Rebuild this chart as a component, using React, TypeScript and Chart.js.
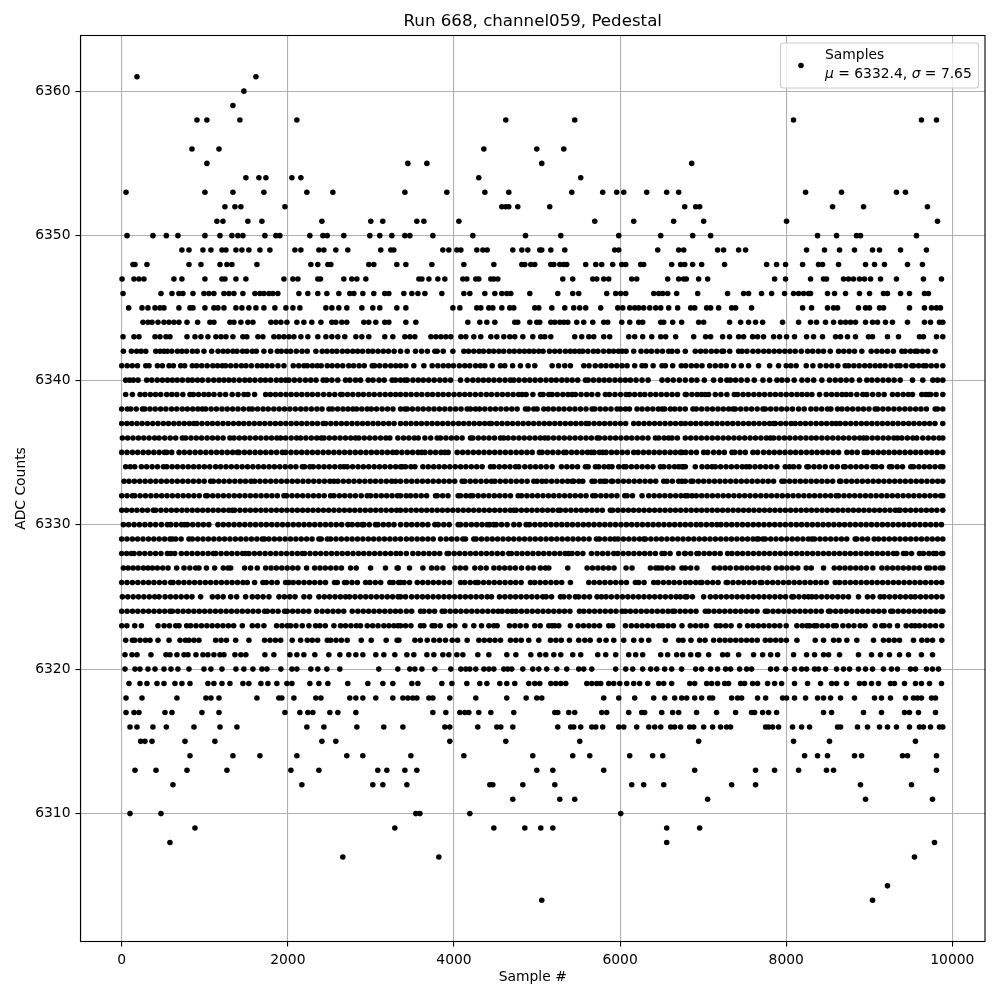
import React, { useEffect, useRef } from "react";
import { Chart, registerables } from "chart.js";

Chart.register(...registerables);

const chartTitle = "Run 668, channel059, Pedestal";
const xLabel = "Sample #";
const yLabel = "ADC Counts";
const xTicks = [0, 2000, 4000, 6000, 8000, 10000];
const yTicks = [6310, 6320, 6330, 6340, 6350, 6360];
const legendName = "Samples";
const legendStats = ["μ", " = 6332.4, ", "σ", " = 7.65"];

// Data provenance:
// Rows 6343-6361 and 6304-6321 were read dot by dot from zoomed crops of the reference.
// Rows 6322-6342 overlap into solid bars, so only the bar edges could be read; the points
// inside each bar are hand-typed at roughly even spacing. They are NOT read samples.
const adc6361 = [184, 1616];
const adc6360 = [1471];
const adc6359 = [1339];
const adc6358 = [906, 1026, 1423, 2109, 4624, 5454, 8088, 9628, 9809];
const adc6356 = [846, 1171, 4360, 4997, 5322];
const adc6355 = [1026, 3445, 3674, 5057, 6862];
const adc6354 = [1495, 1652, 1736, 2049, 2157, 4299, 5526];
const adc6353 = [52, 1002, 1339, 1712, 2229, 2542, 3409, 3914, 4372, 4660, 5418, 5791, 5959, 6044, 6320, 6561, 6705, 8233, 8666, 9327, 9436];
const adc6352 = [1243, 1363, 1435, 1965, 4576, 4624, 4660, 4768, 5153, 6778, 6910, 6958, 8558, 8931, 9700];
const adc6351 = [1146, 1219, 1519, 1688, 2410, 2999, 3143, 3553, 3638, 4059, 5695, 6164, 6645, 7006, 8004, 9821];
const adc6350 = [64, 376, 537, 677, 1002, 1183, 1327, 1399, 1459, 1724, 1856, 1904, 2265, 2422, 2474, 2674, 2987, 3107, 3252, 3409, 3469, 3746, 4227, 4861, 5286, 5984, 6489, 6874, 7090, 8377, 8606, 8846, 8894, 9568];
const adc6349 = [725, 810, 978, 1074, 1207, 1255, 1375, 1447, 1531, 1664, 1784, 2085, 2157, 2374, 2434, 2578, 2722, 3119, 3240, 3276, 3866, 3938, 4035, 4083, 4275, 4348, 4400, 4708, 4817, 4889, 5033, 5057, 5166, 5334, 5935, 5984, 6453, 6705, 6766, 7174, 7246, 7427, 7511, 8245, 8461, 8642, 8822, 9039, 9123, 9376, 9688];
const adc6348 = [136, 160, 304, 810, 954, 1183, 1267, 1327, 1628, 2277, 2361, 2482, 2518, 2975, 3035, 3312, 3421, 3734, 4119, 4480, 4817, 4853, 4925, 4973, 5166, 5202, 5274, 5322, 5358, 5586, 5707, 5779, 5911, 6020, 6068, 6248, 6284, 6621, 6729, 6778, 6874, 6982, 7258, 7764, 7884, 7992, 8197, 8389, 8437, 8630, 8955, 9063, 9183, 9460, 9640];
const adc6347 = [4, 148, 208, 268, 629, 725, 1002, 1207, 1243, 1375, 1495, 1953, 2061, 2121, 2361, 2393, 2674, 2770, 2831, 2939, 3578, 3614, 3698, 3806, 3890, 4107, 4155, 4263, 4299, 4444, 4480, 4528, 5310, 5430, 5671, 5719, 5803, 5863, 6140, 6200, 6573, 6705, 6765, 6797, 6946, 7054, 7860, 7992, 8293, 8449, 8485, 8690, 8750, 8810, 8882, 8942, 9015, 9135, 9327, 9652, 9869];
const adc6346 = [16, 473, 605, 689, 737, 858, 990, 1050, 1110, 1231, 1291, 1351, 1459, 1604, 1664, 1712, 1772, 1820, 1880, 2133, 2241, 2361, 2470, 2614, 2746, 2795, 2903, 3035, 3167, 3216, 3397, 3493, 3566, 3650, 3854, 4119, 4191, 4372, 4492, 4576, 4636, 4684, 4913, 5250, 5430, 5502, 5839, 5947, 6008, 6068, 6405, 6465, 6513, 6573, 6681, 6934, 7294, 7487, 7547, 7703, 7824, 7980, 8088, 8149, 8209, 8269, 8293, 8497, 8582, 8714, 8882, 9003, 9171, 9219, 9376, 9484, 9664, 9712];
const adc6345 = [84, 244, 316, 401, 461, 509, 689, 822, 858, 1002, 1110, 1159, 1231, 1375, 1447, 1531, 1616, 1712, 1844, 1977, 2061, 2145, 2458, 2530, 2614, 2710, 2891, 3023, 3107, 3312, 3421, 3987, 4071, 4275, 4323, 4420, 4468, 4576, 4672, 4720, 4973, 5021, 5178, 5334, 5442, 5514, 5586, 5767, 5972, 6032, 6116, 6176, 6224, 6284, 6357, 6429, 6489, 6585, 6693, 6850, 6898, 7042, 7090, 7186, 7343, 7391, 7583, 8197, 8305, 8497, 8570, 8618, 8870, 8955, 9003, 9123, 9171, 9484, 9664, 9749, 9809, 9857];
const adc6344 = [256, 316, 365, 437, 509, 569, 629, 689, 786, 914, 1062, 1110, 1303, 1351, 1435, 1519, 1580, 1796, 1856, 1917, 1989, 2109, 2193, 2289, 2398, 2530, 2578, 2650, 2710, 2915, 2975, 3059, 3167, 3216, 3421, 3541, 4167, 4311, 4396, 4492, 4732, 4768, 4913, 4997, 5033, 5166, 5214, 5274, 5322, 5370, 5478, 5562, 5671, 5803, 5851, 6020, 6116, 6224, 6272, 6489, 6525, 6633, 6741, 6946, 7006, 7318, 7451, 7547, 7631, 7716, 7956, 8149, 8293, 8365, 8473, 8570, 8654, 8714, 8774, 8834, 8955, 9039, 9099, 9195, 9279, 9460, 9664, 9737, 9845, 9885];
const adc6343 = [16, 148, 208, 401, 461, 533, 581, 786, 882, 954, 1038, 1134, 1195, 1255, 1339, 1459, 1507, 1640, 1700, 1832, 1892, 1953, 2013, 2073, 2157, 2241, 2361, 2458, 2530, 2602, 2686, 2819, 2891, 2975, 3167, 3264, 3409, 3469, 3529, 3722, 3782, 3842, 3902, 3962, 4083, 4143, 4239, 4323, 4444, 4516, 4600, 4672, 4732, 4829, 4949, 5045, 5093, 5166, 5454, 5538, 5623, 5683, 5803, 5875, 6104, 6176, 6272, 6381, 6489, 6549, 6669, 6886, 7030, 7090, 7234, 7318, 7427, 7487, 7595, 7655, 7727, 7848, 7920, 8004, 8100, 8245, 8329, 8437, 8594, 8654, 8738, 8834, 8990, 9039, 9219, 9352, 9604, 9652, 9809, 9885];
const adc6342 = [20, 117, 180, 233, 290, 410, 462, 510, 550, 603, 671, 724, 781, 852, 909, 990, 1083, 1160, 1221, 1276, 1339, 1388, 1456, 1507, 1573, 1621, 1712, 1793, 1873, 1921, 1984, 2033, 2102, 2171, 2234, 2338, 2414, 2471, 2534, 2590, 2657, 2718, 2781, 2840, 2899, 2968, 3022, 3086, 3149, 3211, 3280, 3357, 3437, 3537, 3610, 3680, 3770, 3798, 3871, 3987, 4119, 4176, 4239, 4302, 4355, 4421, 4478, 4541, 4598, 4667, 4726, 4789, 4848, 4906, 4961, 5021, 5073, 5150, 5213, 5274, 5342, 5401, 5455, 5510, 5550, 5612, 5679, 5733, 5801, 5866, 5921, 5980, 6024, 6072, 6164, 6252, 6318, 6377, 6446, 6510, 6585, 6625, 6690, 6785, 6905, 6969, 7031, 7098, 7160, 7226, 7246, 7320, 7427, 7467, 7527, 7599, 7662, 7729, 7791, 7855, 7918, 7983, 8044, 8108, 8181, 8257, 8318, 8386, 8449, 8530, 8630, 8692, 8757, 8822, 8910, 9023, 9091, 9154, 9218, 9290, 9392, 9432, 9496, 9552, 9580, 9640, 9703, 9793];
const adc6341 = [0, 66, 127, 190, 290, 329, 430, 490, 570, 622, 710, 758, 850, 902, 963, 1029, 1097, 1154, 1211, 1251, 1312, 1376, 1441, 1496, 1561, 1633, 1689, 1748, 1810, 1881, 1953, 2065, 2131, 2194, 2234, 2295, 2354, 2402, 2475, 2533, 2597, 2661, 2733, 2791, 2858, 2920, 3016, 3044, 3105, 3172, 3239, 3300, 3357, 3421, 3517, 3638, 3738, 3806, 3871, 3933, 3994, 4065, 4130, 4190, 4260, 4320, 4372, 4460, 4560, 4612, 4706, 4800, 4893, 4973, 5182, 5260, 5334, 5402, 5563, 5626, 5701, 5769, 5830, 5896, 5960, 6024, 6084, 6176, 6264, 6305, 6398, 6505, 6545, 6633, 6737, 6790, 6858, 6920, 6986, 7078, 7146, 7214, 7278, 7367, 7459, 7547, 7667, 7800, 7908, 8000, 8056, 8120, 8241, 8321, 8409, 8481, 8548, 8621, 8710, 8750, 8814, 8878, 8945, 9007, 9071, 9131, 9191, 9262, 9331, 9371, 9440, 9512, 9532, 9594, 9652, 9684, 9746, 9810, 9885];
const adc6340 = [48, 96, 140, 197, 301, 362, 428, 490, 552, 610, 668, 731, 798, 850, 912, 970, 1041, 1108, 1171, 1231, 1291, 1350, 1416, 1482, 1541, 1604, 1671, 1730, 1793, 1861, 1919, 1973, 2013, 2078, 2144, 2212, 2276, 2340, 2426, 2467, 2530, 2601, 2695, 2747, 2815, 2875, 2968, 3026, 3098, 3160, 3256, 3296, 3357, 3409, 3437, 3506, 3570, 3631, 3696, 3762, 3830, 3893, 3959, 4079, 4159, 4227, 4291, 4354, 4418, 4482, 4548, 4615, 4680, 4720, 4783, 4851, 4913, 4977, 5041, 5108, 5172, 5231, 5298, 5360, 5423, 5490, 5583, 5615, 5680, 5746, 5809, 5871, 5938, 6002, 6063, 6124, 6192, 6264, 6337, 6505, 6573, 6640, 6713, 6785, 6860, 6925, 7014, 7126, 7210, 7286, 7327, 7390, 7458, 7530, 7615, 7720, 7800, 7888, 7948, 8013, 8096, 8189, 8257, 8331, 8429, 8521, 8590, 8656, 8722, 8790, 8882, 8970, 9031, 9097, 9165, 9232, 9299, 9372, 9520, 9644, 9765, 9822, 9885];
const adc6339 = [48, 129, 221, 280, 345, 408, 470, 542, 603, 664, 736, 822, 862, 925, 990, 1048, 1111, 1183, 1251, 1330, 1401, 1472, 1520, 1600, 1733, 1790, 1852, 1913, 1978, 2040, 2105, 2168, 2233, 2295, 2361, 2430, 2498, 2565, 2635, 2655, 2719, 2782, 2849, 2910, 2977, 3040, 3108, 3172, 3236, 3298, 3357, 3421, 3484, 3550, 3613, 3681, 3742, 3808, 3870, 3935, 4001, 4066, 4130, 4192, 4258, 4324, 4391, 4452, 4519, 4583, 4648, 4712, 4777, 4821, 4869, 4950, 5041, 5073, 5142, 5182, 5244, 5311, 5372, 5422, 5462, 5530, 5597, 5660, 5732, 5823, 5871, 5938, 6005, 6072, 6112, 6175, 6240, 6297, 6365, 6430, 6495, 6561, 6626, 6691, 6785, 6797, 6865, 6928, 6980, 7026, 7066, 7146, 7214, 7286, 7375, 7415, 7480, 7543, 7610, 7675, 7739, 7806, 7870, 7935, 8000, 8065, 8129, 8189, 8250, 8309, 8401, 8481, 8546, 8610, 8672, 8722, 8778, 8850, 8922, 8970, 9040, 9110, 9179, 9279, 9342, 9408, 9470, 9520, 9632, 9680, 9712, 9740, 9804, 9885];
const adc6338 = [0, 68, 109, 175, 249, 277, 340, 403, 468, 532, 600, 663, 729, 790, 855, 917, 971, 1011, 1076, 1140, 1207, 1270, 1335, 1400, 1466, 1532, 1572, 1636, 1702, 1764, 1831, 1895, 1960, 2024, 2090, 2156, 2218, 2284, 2350, 2412, 2495, 2535, 2600, 2664, 2725, 2783, 2827, 2890, 2955, 3004, 3068, 3135, 3200, 3266, 3357, 3409, 3437, 3500, 3566, 3630, 3696, 3760, 3825, 3889, 3954, 4020, 4085, 4159, 4199, 4259, 4307, 4371, 4437, 4500, 4565, 4630, 4696, 4760, 4861, 4893, 4961, 5001, 5081, 5133, 5197, 5263, 5326, 5392, 5456, 5522, 5590, 5663, 5695, 5760, 5825, 5890, 5963, 6004, 6064, 6112, 6204, 6264, 6330, 6394, 6460, 6505, 6537, 6605, 6657, 6720, 6785, 6877, 6917, 6982, 7048, 7113, 7178, 7242, 7307, 7359, 7387, 7452, 7518, 7583, 7650, 7720, 7748, 7812, 7878, 7944, 8008, 8075, 8149, 8217, 8297, 8360, 8427, 8497, 8538, 8618, 8670, 8735, 8800, 8866, 8930, 8996, 9071, 9099, 9164, 9229, 9296, 9361, 9428, 9492, 9558, 9622, 9688, 9793, 9821, 9885];
const adc6337 = [0, 62, 121, 184, 246, 310, 374, 437, 501, 563, 628, 690, 753, 817, 870, 903, 966, 1030, 1092, 1155, 1219, 1282, 1346, 1409, 1470, 1533, 1596, 1660, 1723, 1787, 1850, 1912, 1976, 2040, 2103, 2167, 2230, 2294, 2358, 2426, 2455, 2518, 2581, 2645, 2708, 2772, 2835, 2898, 2962, 3025, 3088, 3151, 3215, 3279, 3357, 3420, 3483, 3546, 3610, 3674, 3737, 3800, 3864, 3927, 3990, 4054, 4117, 4180, 4244, 4307, 4370, 4428, 4452, 4516, 4579, 4643, 4706, 4770, 4833, 4896, 4960, 5024, 5087, 5150, 5214, 5277, 5340, 5404, 5467, 5530, 5591, 5623, 5687, 5750, 5813, 5877, 5940, 6004, 6067, 6164, 6224, 6288, 6351, 6415, 6478, 6541, 6605, 6668, 6732, 6785, 6849, 6912, 6976, 7039, 7103, 7166, 7230, 7293, 7356, 7420, 7483, 7547, 7610, 7673, 7737, 7800, 7848, 7868, 7932, 7995, 8058, 8108, 8169, 8233, 8296, 8360, 8423, 8486, 8550, 8602, 8650, 8714, 8777, 8840, 8904, 8967, 9031, 9094, 9157, 9220, 9284, 9347, 9411, 9474, 9537, 9601, 9664, 9727, 9791, 9885];
const adc6336 = [8, 72, 136, 201, 266, 330, 396, 450, 518, 584, 650, 730, 770, 834, 898, 962, 1028, 1092, 1156, 1221, 1303, 1352, 1416, 1480, 1545, 1611, 1675, 1740, 1804, 1868, 1913, 1973, 2040, 2106, 2154, 2218, 2283, 2348, 2402, 2435, 2500, 2564, 2629, 2694, 2758, 2815, 2855, 2920, 2986, 3050, 3116, 3180, 3228, 3325, 3393, 3457, 3521, 3570, 3650, 3720, 3798, 3838, 3903, 3968, 4032, 4098, 4199, 4227, 4293, 4358, 4422, 4488, 4560, 4600, 4652, 4716, 4782, 4846, 4911, 4976, 5040, 5093, 5133, 5198, 5264, 5328, 5394, 5458, 5524, 5590, 5654, 5723, 5751, 5816, 5881, 5945, 6010, 6076, 6140, 6206, 6270, 6336, 6425, 6465, 6530, 6585, 6625, 6690, 6785, 6850, 6914, 6980, 7044, 7110, 7175, 7240, 7305, 7370, 7434, 7500, 7565, 7630, 7695, 7760, 7808, 7848, 7913, 7978, 8043, 8108, 8172, 8238, 8302, 8361, 8429, 8494, 8560, 8625, 8690, 8755, 8820, 8885, 8930, 8970, 9035, 9100, 9166, 9230, 9296, 9340, 9392, 9458, 9524, 9572, 9644, 9710, 9775, 9840, 9885];
const adc6335 = [0, 64, 129, 193, 258, 322, 387, 451, 515, 542, 602, 690, 754, 819, 884, 948, 1013, 1077, 1142, 1206, 1271, 1335, 1392, 1412, 1477, 1541, 1606, 1670, 1735, 1799, 1864, 1933, 1973, 2038, 2102, 2167, 2231, 2296, 2360, 2425, 2489, 2554, 2618, 2683, 2747, 2812, 2876, 2941, 3005, 3070, 3134, 3199, 3263, 3309, 3373, 3438, 3502, 3567, 3610, 3650, 3715, 3779, 3844, 3890, 3930, 4039, 4104, 4168, 4233, 4297, 4362, 4426, 4491, 4555, 4620, 4684, 4749, 4813, 4878, 4942, 5029, 5061, 5126, 5190, 5255, 5322, 5350, 5415, 5479, 5544, 5608, 5655, 5687, 5751, 5791, 5831, 5896, 5960, 6025, 6089, 6164, 6216, 6281, 6345, 6410, 6474, 6539, 6603, 6665, 6725, 6745, 6790, 6854, 6919, 7006, 7054, 7126, 7191, 7255, 7347, 7379, 7444, 7508, 7599, 7655, 7727, 7792, 7856, 7921, 7985, 8050, 8114, 8179, 8243, 8308, 8372, 8437, 8501, 8566, 8630, 8730, 8790, 8855, 8938, 8978, 9043, 9107, 9172, 9236, 9301, 9365, 9430, 9494, 9559, 9623, 9688, 9752, 9817, 9885];
const adc6334 = [48, 103, 157, 237, 300, 366, 431, 502, 542, 607, 671, 736, 801, 866, 930, 995, 1060, 1131, 1191, 1256, 1320, 1385, 1450, 1515, 1579, 1644, 1709, 1774, 1838, 1903, 1968, 2033, 2097, 2174, 2202, 2266, 2306, 2371, 2436, 2500, 2565, 2630, 2675, 2715, 2780, 2845, 2909, 2974, 3039, 3104, 3168, 3233, 3298, 3357, 3377, 3417, 3481, 3530, 3626, 3691, 3756, 3820, 3885, 3950, 4015, 4080, 4144, 4209, 4274, 4339, 4440, 4480, 4545, 4610, 4674, 4741, 4781, 4853, 4918, 4983, 5047, 5112, 5182, 5294, 5359, 5423, 5488, 5583, 5615, 5703, 5743, 5808, 5863, 5903, 5984, 6044, 6072, 6137, 6201, 6266, 6331, 6396, 6485, 6525, 6590, 6655, 6705, 6745, 6765, 6785, 6905, 6986, 7050, 7106, 7146, 7210, 7275, 7340, 7405, 7470, 7519, 7559, 7624, 7688, 7753, 7818, 7888, 7988, 8040, 8088, 8153, 8249, 8269, 8334, 8399, 8469, 8550, 8615, 8690, 8710, 8775, 8840, 8904, 8969, 9043, 9083, 9148, 9243, 9271, 9336, 9400, 9500, 9532, 9597, 9662, 9726, 9791, 9856, 9885];
const adc6333 = [28, 88, 152, 217, 282, 346, 411, 476, 540, 605, 670, 735, 799, 864, 929, 994, 1071, 1103, 1168, 1232, 1297, 1362, 1427, 1491, 1556, 1600, 1664, 1729, 1794, 1858, 1923, 1988, 2053, 2117, 2182, 2247, 2312, 2376, 2441, 2506, 2555, 2603, 2668, 2733, 2797, 2862, 2927, 2992, 3056, 3121, 3186, 3251, 3297, 3357, 3426, 3491, 3556, 3621, 3685, 3750, 3815, 3880, 3944, 4009, 4099, 4131, 4196, 4260, 4325, 4390, 4452, 4492, 4557, 4622, 4686, 4751, 4816, 4881, 4961, 5001, 5061, 5110, 5175, 5240, 5304, 5369, 5422, 5442, 5503, 5551, 5663, 5695, 5760, 5803, 5831, 5895, 5911, 5976, 6041, 6105, 6170, 6235, 6300, 6364, 6429, 6525, 6565, 6630, 6705, 6745, 6785, 6853, 6877, 6942, 7006, 7071, 7136, 7201, 7265, 7330, 7395, 7460, 7524, 7589, 7654, 7719, 7783, 7848, 7948, 7976, 8041, 8105, 8170, 8235, 8300, 8364, 8429, 8494, 8559, 8642, 8658, 8723, 8788, 8852, 8917, 8982, 9047, 9111, 9176, 9241, 9306, 9370, 9435, 9500, 9565, 9629, 9694, 9759, 9824, 9885];
const adc6332 = [0, 64, 129, 157, 222, 286, 351, 416, 481, 545, 610, 675, 740, 804, 869, 934, 1011, 1031, 1096, 1160, 1225, 1290, 1355, 1419, 1484, 1549, 1614, 1678, 1743, 1808, 1873, 1953, 1985, 2050, 2114, 2179, 2244, 2309, 2373, 2438, 2515, 2555, 2620, 2684, 2749, 2814, 2884, 2956, 2996, 3061, 3126, 3190, 3255, 3320, 3357, 3425, 3477, 3541, 3606, 3671, 3778, 3798, 3863, 3928, 4051, 4079, 4144, 4199, 4227, 4291, 4356, 4421, 4486, 4550, 4615, 4680, 4773, 4813, 4878, 4942, 5007, 5072, 5137, 5201, 5266, 5331, 5396, 5460, 5525, 5590, 5671, 5703, 5768, 5832, 5897, 5962, 6056, 6084, 6149, 6264, 6345, 6410, 6474, 6539, 6604, 6669, 6733, 6785, 6813, 6865, 6917, 6982, 7046, 7111, 7176, 7241, 7305, 7370, 7435, 7500, 7564, 7629, 7694, 7759, 7823, 7888, 7953, 8018, 8082, 8147, 8212, 8277, 8341, 8406, 8471, 8536, 8602, 8630, 8695, 8759, 8824, 8889, 8954, 9018, 9083, 9148, 9213, 9277, 9342, 9407, 9472, 9536, 9601, 9666, 9731, 9795, 9860, 9885];
const adc6331 = [0, 58, 121, 183, 248, 311, 381, 409, 472, 535, 598, 660, 724, 786, 849, 912, 975, 1038, 1100, 1163, 1226, 1289, 1332, 1360, 1423, 1486, 1549, 1612, 1675, 1737, 1800, 1863, 1926, 1989, 2052, 2115, 2178, 2240, 2303, 2366, 2429, 2492, 2555, 2618, 2681, 2744, 2806, 2869, 2932, 2995, 3058, 3121, 3184, 3247, 3310, 3357, 3420, 3483, 3546, 3609, 3672, 3735, 3798, 3860, 3923, 3986, 4049, 4112, 4175, 4238, 4301, 4364, 4427, 4490, 4552, 4615, 4678, 4721, 4749, 4812, 4875, 4938, 5001, 5064, 5127, 5190, 5254, 5282, 5345, 5408, 5471, 5534, 5597, 5660, 5723, 5786, 5883, 5911, 5974, 6037, 6100, 6163, 6226, 6289, 6352, 6415, 6478, 6541, 6604, 6667, 6730, 6793, 6856, 6919, 6982, 7045, 7108, 7171, 7234, 7297, 7360, 7423, 7486, 7549, 7612, 7675, 7738, 7801, 7864, 7927, 7990, 8053, 8116, 8179, 8242, 8305, 8368, 8431, 8494, 8557, 8620, 8683, 8746, 8809, 8872, 8935, 8998, 9061, 9124, 9187, 9250, 9313, 9352, 9372, 9435, 9498, 9561, 9624, 9687, 9750, 9813, 9885];
const adc6330 = [20, 84, 149, 214, 279, 343, 409, 478, 550, 590, 655, 720, 758, 790, 855, 920, 984, 1049, 1159, 1223, 1288, 1353, 1418, 1482, 1547, 1612, 1677, 1741, 1806, 1871, 1936, 2000, 2065, 2130, 2195, 2259, 2324, 2389, 2454, 2518, 2583, 2648, 2723, 2775, 2840, 2896, 2916, 2981, 3056, 3084, 3149, 3214, 3278, 3357, 3427, 3491, 3556, 3621, 3686, 3770, 3810, 3878, 3943, 4051, 4079, 4144, 4209, 4273, 4338, 4400, 4428, 4480, 4508, 4573, 4640, 4721, 4786, 4869, 4909, 4974, 5039, 5103, 5168, 5233, 5298, 5362, 5427, 5492, 5557, 5621, 5686, 5751, 5816, 5880, 5945, 6010, 6075, 6139, 6204, 6269, 6334, 6398, 6463, 6528, 6593, 6657, 6722, 6785, 6850, 6917, 6974, 7039, 7104, 7166, 7214, 7279, 7344, 7408, 7473, 7538, 7603, 7667, 7732, 7797, 7862, 7926, 7991, 8056, 8121, 8185, 8250, 8315, 8380, 8444, 8509, 8574, 8639, 8703, 8768, 8833, 8898, 8962, 9027, 9092, 9157, 9221, 9286, 9351, 9416, 9480, 9545, 9610, 9675, 9739, 9804, 9869];
const adc6329 = [0, 63, 128, 192, 257, 322, 387, 451, 516, 581, 610, 650, 715, 810, 850, 915, 979, 1044, 1109, 1174, 1238, 1303, 1368, 1433, 1497, 1562, 1627, 1692, 1720, 1773, 1838, 1902, 1967, 2032, 2097, 2161, 2226, 2291, 2374, 2402, 2475, 2515, 2580, 2645, 2710, 2774, 2839, 2904, 2969, 3033, 3098, 3163, 3228, 3292, 3357, 3427, 3491, 3556, 3621, 3686, 3750, 3838, 3906, 3971, 4036, 4107, 4139, 4239, 4267, 4332, 4397, 4461, 4526, 4591, 4656, 4720, 4785, 4850, 4915, 4979, 5044, 5109, 5174, 5238, 5303, 5368, 5433, 5497, 5562, 5627, 5715, 5751, 5816, 5881, 5935, 5975, 6040, 6105, 6169, 6234, 6285, 6305, 6370, 6435, 6499, 6564, 6629, 6694, 6758, 6823, 6888, 6953, 7017, 7082, 7147, 7212, 7276, 7341, 7406, 7471, 7535, 7600, 7647, 7667, 7720, 7748, 7813, 7877, 7942, 8007, 8072, 8136, 8201, 8266, 8309, 8341, 8406, 8470, 8535, 8600, 8665, 8729, 8830, 8850, 8915, 8980, 9059, 9111, 9176, 9240, 9305, 9370, 9435, 9499, 9564, 9629, 9694, 9758, 9823, 9885];
const adc6328 = [0, 60, 117, 149, 214, 278, 343, 408, 473, 550, 590, 638, 718, 783, 847, 912, 977, 1042, 1103, 1131, 1196, 1261, 1325, 1390, 1455, 1492, 1532, 1597, 1661, 1726, 1791, 1856, 1920, 1985, 2050, 2115, 2174, 2202, 2267, 2332, 2396, 2461, 2526, 2591, 2655, 2720, 2785, 2850, 2914, 2979, 3044, 3109, 3173, 3238, 3303, 3357, 3427, 3505, 3570, 3635, 3700, 3764, 3829, 3918, 3938, 4003, 4068, 4132, 4197, 4262, 4327, 4391, 4456, 4521, 4586, 4660, 4692, 4757, 4821, 4886, 4951, 5016, 5080, 5145, 5210, 5275, 5339, 5382, 5422, 5487, 5552, 5655, 5723, 5788, 5853, 5924, 5972, 6037, 6101, 6166, 6231, 6296, 6360, 6425, 6505, 6537, 6602, 6705, 6777, 6785, 6850, 6925, 6946, 7011, 7075, 7140, 7205, 7294, 7347, 7412, 7476, 7541, 7606, 7671, 7735, 7800, 7865, 7930, 7994, 8059, 8124, 8189, 8253, 8318, 8383, 8448, 8512, 8577, 8642, 8707, 8771, 8836, 8901, 8966, 9030, 9095, 9160, 9225, 9291, 9332, 9412, 9444, 9509, 9604, 9652, 9717, 9773, 9805, 9870, 9885];
const adc6327 = [20, 77, 137, 197, 261, 316, 369, 429, 494, 558, 662, 750, 820, 890, 930, 1020, 1119, 1223, 1279, 1312, 1480, 1552, 1632, 1733, 1798, 1862, 1927, 1992, 2057, 2121, 2226, 2322, 2387, 2451, 2516, 2581, 2646, 2755, 2823, 2996, 3176, 3316, 3329, 3465, 3626, 3730, 3795, 3866, 4011, 4076, 4141, 4251, 4320, 4388, 4480, 4545, 4610, 4674, 4739, 4813, 4893, 4958, 5040, 5101, 5142, 5370, 5603, 5668, 5733, 5797, 5862, 5927, 6072, 6144, 6365, 6430, 6465, 6505, 6570, 6635, 6745, 6785, 6850, 6925, 7134, 7199, 7264, 7326, 7399, 7464, 7529, 7593, 7658, 7723, 7788, 7880, 7945, 8009, 8074, 8139, 8241, 8301, 8449, 8578, 8642, 8707, 8772, 8837, 8901, 8966, 9043, 9151, 9216, 9281, 9345, 9410, 9475, 9540, 9604, 9692, 9725, 9790, 9855, 9885];
const adc6326 = [0, 64, 129, 194, 259, 323, 388, 453, 518, 590, 618, 683, 748, 812, 877, 942, 1007, 1071, 1136, 1201, 1266, 1330, 1395, 1460, 1512, 1600, 1700, 1741, 1806, 1871, 1973, 2013, 2065, 2130, 2195, 2260, 2324, 2389, 2454, 2562, 2595, 2683, 2707, 2772, 2837, 2936, 2988, 3053, 3118, 3228, 3268, 3333, 3357, 3400, 3465, 3558, 3623, 3688, 3752, 3817, 3882, 3947, 4079, 4131, 4196, 4259, 4291, 4356, 4421, 4485, 4550, 4615, 4680, 4744, 4809, 4921, 4973, 5038, 5102, 5167, 5232, 5297, 5402, 5623, 5688, 5753, 5817, 5882, 5947, 6012, 6076, 6184, 6224, 6289, 6405, 6457, 6522, 6587, 6651, 6716, 6785, 6845, 6910, 6966, 6986, 7051, 7116, 7180, 7278, 7294, 7359, 7424, 7489, 7553, 7618, 7687, 7707, 7772, 7837, 7901, 7966, 8031, 8096, 8160, 8225, 8290, 8355, 8419, 8484, 8590, 8642, 8707, 8772, 8836, 8901, 8966, 9031, 9095, 9160, 9225, 9290, 9354, 9419, 9484, 9549, 9613, 9678, 9743, 9808, 9872];
const adc6325 = [8, 73, 138, 202, 267, 332, 397, 450, 522, 587, 651, 716, 781, 846, 950, 1091, 1156, 1221, 1312, 1384, 1492, 1572, 1637, 1702, 1773, 1893, 1958, 2023, 2087, 2194, 2262, 2374, 2439, 2503, 2568, 2633, 2695, 2743, 2808, 2873, 2938, 3002, 3067, 3132, 3197, 3261, 3326, 3357, 3417, 3490, 3555, 3620, 3684, 3749, 3814, 3879, 3943, 4008, 4073, 4138, 4202, 4267, 4332, 4400, 4452, 4548, 4613, 4678, 4742, 4807, 4872, 4937, 5001, 5069, 5110, 5175, 5282, 5322, 5387, 5462, 5502, 5567, 5632, 5723, 5775, 5831, 5895, 5963, 6028, 6093, 6157, 6222, 6287, 6352, 6416, 6481, 6546, 6611, 6675, 6725, 6785, 6806, 6871, 7006, 7086, 7151, 7215, 7280, 7345, 7410, 7474, 7539, 7604, 7669, 7733, 7798, 7863, 7928, 7992, 8068, 8088, 8153, 8218, 8269, 8309, 8361, 8426, 8491, 8555, 8620, 8685, 8750, 8870, 8978, 9043, 9131, 9179, 9244, 9309, 9373, 9438, 9500, 9552, 9617, 9682, 9746, 9811, 9876];
const adc6324 = [0, 65, 130, 194, 259, 324, 389, 453, 518, 582, 610, 675, 740, 804, 869, 934, 999, 1063, 1128, 1193, 1258, 1322, 1387, 1452, 1517, 1581, 1646, 1720, 1753, 1818, 1883, 1961, 1993, 2058, 2122, 2187, 2252, 2346, 2414, 2479, 2544, 2608, 2673, 2775, 2843, 2908, 2973, 3037, 3102, 3167, 3232, 3296, 3357, 3427, 3491, 3598, 3638, 3703, 3767, 3858, 3890, 3955, 4020, 4084, 4149, 4214, 4279, 4343, 4408, 4473, 4532, 4580, 4645, 4700, 4749, 4813, 4878, 4943, 5008, 5072, 5137, 5202, 5267, 5331, 5396, 5511, 5563, 5628, 5692, 5757, 5822, 5887, 5951, 6024, 6064, 6124, 6189, 6254, 6319, 6383, 6448, 6513, 6578, 6633, 6657, 6722, 6785, 6850, 6914, 7026, 7066, 7131, 7195, 7260, 7325, 7390, 7454, 7519, 7584, 7649, 7748, 7776, 7841, 7905, 7970, 8035, 8100, 8164, 8229, 8294, 8359, 8423, 8509, 8530, 8595, 8660, 8724, 8789, 8854, 8919, 8983, 9048, 9113, 9178, 9259, 9283, 9348, 9412, 9477, 9542, 9607, 9671, 9736, 9801, 9866, 9885];
const adc6323 = [0, 62, 157, 237, 437, 510, 575, 650, 690, 782, 830, 895, 960, 1025, 1089, 1154, 1219, 1284, 1348, 1452, 1572, 1637, 1712, 1865, 1930, 1993, 2033, 2098, 2174, 2254, 2334, 2386, 2451, 2555, 2635, 2695, 2760, 2825, 2875, 2956, 3021, 3086, 3156, 3216, 3276, 3325, 3357, 3417, 3482, 3598, 3638, 3738, 3770, 3835, 3946, 4011, 4131, 4239, 4332, 4420, 4480, 4520, 4668, 4733, 4798, 4869, 4973, 5038, 5142, 5182, 5214, 5262, 5402, 5494, 5559, 5624, 5688, 5753, 5863, 5911, 6064, 6136, 6201, 6266, 6330, 6395, 6465, 6513, 6578, 6642, 6745, 6845, 6910, 6975, 7040, 7158, 7206, 7271, 7336, 7439, 7535, 7600, 7664, 7729, 7794, 7859, 7923, 8000, 8128, 8193, 8249, 8281, 8337, 8369, 8434, 8499, 8570, 8602, 8682, 8750, 8815, 8890, 8950, 9071, 9151, 9179, 9244, 9340, 9444, 9509, 9552, 9604, 9669, 9734, 9798, 9873];
const adc6322 = [48, 129, 157, 222, 287, 341, 437, 570, 702, 767, 810, 870, 930, 1131, 1196, 1261, 1372, 1532, 1720, 1785, 1850, 1914, 2053, 2154, 2234, 2294, 2359, 2475, 2515, 2580, 2645, 2715, 2884, 3004, 3184, 3316, 3337, 3530, 3595, 3678, 3758, 3826, 3898, 3979, 4044, 4159, 4300, 4365, 4430, 4494, 4560, 4680, 4745, 4810, 4901, 5021, 5162, 5227, 5292, 5390, 5502, 5575, 5640, 5751, 5831, 5924, 6044, 6164, 6256, 6345, 6545, 6705, 6757, 6853, 6958, 7023, 7126, 7198, 7263, 7327, 7392, 7457, 7522, 7586, 7651, 7748, 7808, 7873, 7937, 8002, 8129, 8349, 8449, 8570, 8635, 8730, 8850, 9051, 9171, 9236, 9301, 9364, 9532, 9632, 9697, 9761, 9873];
const adc6321 = [40, 124, 184, 352, 533, 581, 665, 750, 798, 894, 978, 1038, 1110, 1183, 1231, 1363, 1435, 1495, 1724, 1832, 2025, 2109, 2193, 2325, 2494, 2626, 2734, 2819, 2903, 3059, 3156, 3288, 3433, 3517, 3674, 3758, 3866, 3938, 4035, 4107, 4287, 4420, 4636, 4745, 4925, 5033, 5105, 5202, 5286, 5430, 5526, 5731, 5827, 5947, 6104, 6188, 6272, 6489, 6573, 6681, 6753, 6850, 6934, 6946, 7066, 7234, 7294, 7427, 7607, 7716, 7812, 7896, 8088, 8245, 8341, 8449, 8510, 8642, 8870, 9027, 9135, 9243, 9364, 9472, 9628, 9761];
const adc6320 = [40, 160, 220, 316, 401, 509, 593, 677, 810, 990, 1074, 1207, 1375, 1471, 1580, 1688, 1748, 1917, 2049, 2109, 2277, 2361, 2470, 2626, 3095, 3324, 3469, 3529, 3614, 3770, 3962, 4083, 4143, 4191, 4263, 4360, 4420, 4480, 4600, 4648, 4696, 4829, 4949, 5021, 5117, 5238, 5358, 5502, 5562, 5659, 5947, 6068, 6152, 6272, 6369, 6441, 6537, 6621, 6741, 6910, 6982, 7090, 7174, 7270, 7330, 7439, 7523, 7583, 7812, 7884, 7992, 8100, 8185, 8245, 8341, 8389, 8473, 8606, 8690, 8762, 8870, 8955, 9039, 9171, 9267, 9339, 9496, 9556, 9688, 9761, 9833];
const adc6319 = [88, 220, 304, 425, 509, 641, 725, 822, 1038, 1110, 1207, 1303, 1459, 1531, 1676, 1760, 1868, 1989, 2049, 2265, 2374, 2482, 2722, 2963, 3144, 3264, 3493, 3566, 3854, 3975, 4155, 4311, 4396, 4552, 4636, 4732, 4901, 4973, 5033, 5166, 5226, 5286, 5346, 5599, 5659, 5719, 5767, 5863, 5923, 5996, 6080, 6164, 6236, 6333, 6465, 6525, 6621, 6838, 6898, 7042, 7102, 7174, 7258, 7306, 7451, 7499, 7595, 7655, 7776, 7860, 7944, 8100, 8257, 8413, 8546, 8606, 8726, 8882, 8942, 9027, 9111, 9255, 9303, 9424, 9556, 9628, 9725, 9869];
const adc6318 = [52, 244, 665, 1014, 1074, 1171, 1628, 1892, 1928, 2073, 2337, 2398, 2746, 2819, 2903, 3059, 3264, 3385, 3445, 3505, 3553, 3698, 3746, 3950, 4263, 4636, 4869, 4997, 5057, 5803, 5984, 6176, 6405, 6537, 6657, 6741, 6802, 6898, 6982, 7078, 7114, 7343, 7415, 7463, 7655, 7752, 7956, 8004, 8100, 8233, 8377, 8449, 8534, 8654, 8822, 9063, 9147, 9255, 9436, 9532, 9580, 9628, 9749, 9797];
const adc6317 = [52, 148, 208, 521, 605, 966, 1171, 1965, 2145, 2241, 2301, 2506, 2602, 2819, 3746, 3902, 4071, 4131, 4179, 4299, 4444, 4720, 5214, 5250, 5382, 5454, 5779, 5839, 6104, 6260, 6296, 6501, 6633, 6705, 6921, 7162, 7391, 7583, 7619, 7716, 7788, 7884, 8449, 8546, 8930, 9147, 9424, 9484, 9592, 9797];
const adc6316 = [100, 184, 376, 537, 870, 1183, 1387, 2229, 2434, 2831, 3155, 3385, 3890, 3950, 4287, 4516, 4564, 4708, 5250, 5406, 5442, 5526, 5659, 5707, 5791, 5984, 6044, 6200, 6345, 6417, 6489, 6609, 6657, 6729, 6838, 6886, 7006, 7114, 7210, 7282, 7330, 7752, 7788, 7836, 7908, 8076, 8185, 8281, 8618, 8654, 8858, 8979, 9123, 9219, 9327, 9484, 9604, 9652, 9737, 9845, 9885];
const adc6315 = [228, 280, 365, 762, 1122, 2410, 2578, 3950, 4624, 5514, 6946, 8088, 8521, 9556];
const adc6314 = [822, 1339, 1664, 2109, 2710, 2903, 3481, 4119, 4949, 5430, 5635, 6116, 6392, 6513, 8221, 8377, 8497, 8822, 8907, 9400, 9460, 9809];
const adc6313 = [160, 413, 786, 1267, 2037, 2374, 3083, 3192, 3409, 3553, 4997, 5190, 5803, 6898, 7631, 7860, 8149, 8485, 8570, 9809];
const adc6312 = [617, 2169, 3023, 3144, 3433, 4432, 4468, 4829, 5214, 6140, 6284, 6525, 7343, 7631, 8894, 9508];
const adc6311 = [4708, 5274, 5454, 7054, 8955, 9761];
const adc6310 = [100, 473, 3541, 3590, 4191, 6008];
const adc6309 = [882, 3288, 4480, 4853, 5045, 5190, 6561, 6958];
const adc6308 = [581, 6561, 9785];
const adc6307 = [2662, 3818, 9544];
const adc6305 = [9219];
const adc6304 = [5057, 9039];

const levels: [number, number[]][] = [
  [6361, adc6361], [6360, adc6360], [6359, adc6359], [6358, adc6358], [6356, adc6356], [6355, adc6355],
  [6354, adc6354], [6353, adc6353], [6352, adc6352], [6351, adc6351], [6350, adc6350], [6349, adc6349],
  [6348, adc6348], [6347, adc6347], [6346, adc6346], [6345, adc6345], [6344, adc6344], [6343, adc6343],
  [6342, adc6342], [6341, adc6341], [6340, adc6340], [6339, adc6339], [6338, adc6338], [6337, adc6337],
  [6336, adc6336], [6335, adc6335], [6334, adc6334], [6333, adc6333], [6332, adc6332], [6331, adc6331],
  [6330, adc6330], [6329, adc6329], [6328, adc6328], [6327, adc6327], [6326, adc6326], [6325, adc6325],
  [6324, adc6324], [6323, adc6323], [6322, adc6322], [6321, adc6321], [6320, adc6320], [6319, adc6319],
  [6318, adc6318], [6317, adc6317], [6316, adc6316], [6315, adc6315], [6314, adc6314], [6313, adc6313],
  [6312, adc6312], [6311, adc6311], [6310, adc6310], [6309, adc6309], [6308, adc6308], [6307, adc6307],
  [6305, adc6305], [6304, adc6304],
];

export default function App() {
  const ref = useRef<HTMLCanvasElement>(null);
  useEffect(() => {
    const frame: any = {
      id: "frame",
      afterDraw(c: any) {
        const g = c.ctx, a = c.chartArea;
        g.save();
        g.strokeStyle = "#000";
        g.lineWidth = 1.1;
        g.strokeRect(a.left, a.top, a.right - a.left, a.bottom - a.top);
        // legend box, anchored to the upper right of the axes
        const boxW = 198, boxH = 45, bx = a.right - 6.5 - boxW, by = a.top + 7.5;
        g.beginPath();
        g.roundRect(bx, by, boxW, boxH, 3);
        g.fillStyle = "rgba(255,255,255,0.8)";
        g.fill();
        g.strokeStyle = "#cccccc";
        g.lineWidth = 1.1;
        g.stroke();
        g.fillStyle = "#000";
        g.beginPath();
        g.arc(bx + 20.5, by + 22.5, 2.78, 0, Math.PI * 2);
        g.fill();
        g.textBaseline = "alphabetic";
        g.textAlign = "left";
        const regular = '13.89px "DejaVu Sans"', oblique = 'oblique 13.89px "DejaVu Sans"';
        g.font = regular;
        g.fillText(legendName, bx + 44.5, by + 16);
        let tx = bx + 44.5;
        legendStats.forEach((part, i) => {
          g.font = i % 2 === 0 ? oblique : regular;
          g.fillText(part, tx, by + 35);
          tx += g.measureText(part).width;
        });
        g.restore();
      },
    };
    const points = levels.flatMap(([y, xs]) => xs.map((x) => ({ x, y })));
    const chart = new Chart(ref.current!, {
      type: "scatter",
      data: { datasets: [{ label: legendName, data: points, backgroundColor: "#000", borderWidth: 0, pointRadius: 2.78 }] },
      plugins: [frame],
      options: {
        responsive: false,
        animation: false,
        layout: { padding: { right: 15 } },
        plugins: { legend: { display: false }, title: { display: true, fullSize: false, text: chartTitle, color: "#000", font: { family: "DejaVu Sans", size: 16.67, weight: "normal" }, padding: { top: 12, bottom: 3.5 } }, tooltip: { enabled: false } },
        scales: {
          x: { type: "linear", min: -496, max: 10393, afterBuildTicks: (s: any) => { s.ticks = xTicks.map((value) => ({ value })); }, afterFit: (s: any) => { s.height = 58.5; },
            grid: { color: "#b0b0b0", lineWidth: 1.1, tickColor: "#000", tickLength: 5 }, border: { color: "#000", width: 1.1 },
            ticks: { color: "#000", padding: 6, maxRotation: 0, font: { family: "DejaVu Sans", size: 13.89 }, callback: (v: any) => String(v) },
            title: { display: true, text: xLabel, color: "#000", font: { family: "DejaVu Sans", size: 13.89 }, padding: { top: 0, bottom: 14.7 } } },
          y: { type: "linear", min: 6301.15, max: 6363.85, afterBuildTicks: (s: any) => { s.ticks = yTicks.map((value) => ({ value })); }, afterFit: (s: any) => { s.width = 80.5; },
            grid: { color: "#b0b0b0", lineWidth: 1.1, tickColor: "#000", tickLength: 5 }, border: { color: "#000", width: 1.1 },
            ticks: { color: "#000", padding: 5, font: { family: "DejaVu Sans", size: 13.89 }, callback: (v: any) => String(v) },
            title: { display: true, text: yLabel, color: "#000", font: { family: "DejaVu Sans", size: 13.89 }, padding: { top: 13.5, bottom: 0 } } },
        },
      },
    } as any);
    return () => chart.destroy();
  }, []);
  return <div style={{ position: "absolute", left: 0, top: 0 }}><canvas ref={ref} width={1000} height={1000} style={{ display: "block" }} /></div>;
}
